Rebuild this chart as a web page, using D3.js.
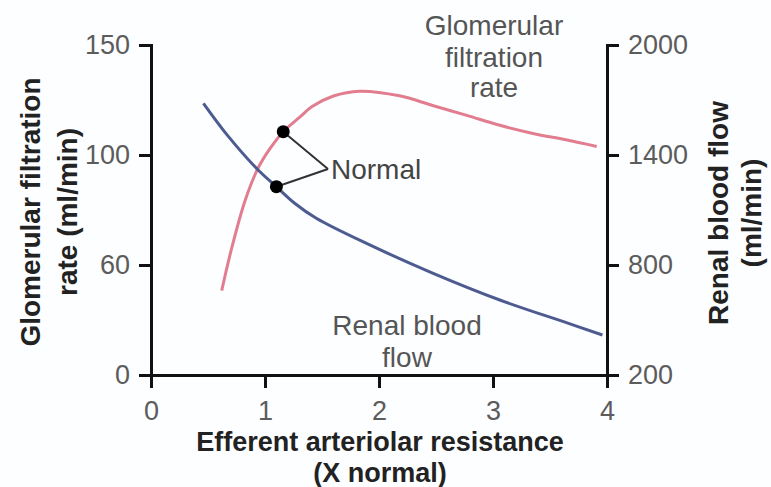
<!DOCTYPE html>
<html>
<head>
<meta charset="utf-8">
<script src="https://cdn.jsdelivr.net/npm/d3@7"></script>
<style>
  body { margin: 0; background: #fdfeff; }
  svg { display: block; font-family: Arial, "Liberation Sans", sans-serif; }
  .axis path, .axis line { stroke: #111; stroke-width: 3; }
  .axis text { fill: #5c5c5c; font-size: 27px; font-family: Arial, "Liberation Sans", sans-serif; }
</style>
</head>
<body>
<div id="chart"></div>
<script>
// x: efferent arteriolar resistance (X normal)
var xTicks = [0, 1, 2, 3, 4];
var gfrTicks = [0, 60, 100, 150];      // left axis, ml/min
var rbfTicks = [200, 800, 1400, 2000]; // right axis, ml/min

// glomerular filtration rate (left axis)
var gfrX = [0.62, 0.71, 0.825, 0.94, 1.045, 1.16, 1.31, 1.41, 1.6, 1.83, 2.18, 2.47, 2.77, 3.06, 3.35, 3.65, 3.91];
var gfrY = [46, 66.5, 83.4, 95.3, 103, 110.6, 117.4, 121.9, 126.8, 129, 126.9, 122.5, 118, 113.5, 109.8, 106.8, 103.9];

// renal blood flow (right axis)
var rbfX = [0.46, 0.68, 0.94, 1.10, 1.26, 1.45, 1.90, 2.47, 3.06, 3.65, 3.96];
var rbfY = [1682, 1500, 1318, 1227, 1137, 1055, 915, 756, 609, 484, 418];

// normal operating points
var normalX = [1.16, 1.10];
var normalY = [110.6, 1227];

var W = 771, H = 487;
var svg = d3.select('#chart').append('svg').attr('width', W).attr('height', H);

var x = d3.scaleLinear().domain([0, 4]).range([151, 607]);
// left axis ticks are spaced evenly in the source figure
var yTop = 45, yBot = 375;
var yL = d3.scaleLinear().domain(gfrTicks)
    .range(gfrTicks.map(function(d, i){ return yBot - i * (yBot - yTop) / (gfrTicks.length - 1); }));
var yR = d3.scaleLinear().domain([200, 2000]).range([yBot, yTop]);

var line = d3.line().curve(d3.curveCatmullRom.alpha(0.5));

svg.append('path')
    .attr('d', line(gfrX.map(function(d, i){ return [x(d), yL(gfrY[i])]; })))
    .attr('fill', 'none').attr('stroke', '#e27d8f').attr('stroke-width', 3);
svg.append('path')
    .attr('d', line(rbfX.map(function(d, i){ return [x(d), yR(rbfY[i])]; })))
    .attr('fill', 'none').attr('stroke', '#4d5b90').attr('stroke-width', 3);

// axes
svg.append('g').attr('class', 'axis').attr('transform', 'translate(0,' + yBot + ')')
    .call(d3.axisBottom(x).tickValues(xTicks).tickSize(13).tickPadding(13).tickFormat(d3.format('d')));
svg.append('g').attr('class', 'axis').attr('transform', 'translate(151,0)')
    .call(d3.axisLeft(yL).tickValues(gfrTicks).tickSize(12).tickPadding(9).tickSizeOuter(12));
svg.append('g').attr('class', 'axis').attr('transform', 'translate(607,0)')
    .call(d3.axisRight(yR).tickValues(rbfTicks).tickSize(12).tickPadding(9).tickSizeOuter(12)
        .tickFormat(d3.format('d')));
svg.selectAll('.axis .domain').attr('fill', 'none');

// normal points + pointer
var pts = [[x(normalX[0]), yL(normalY[0])], [x(normalX[1]), yR(normalY[1])]];
var vx = 328, vy = 169;
pts.forEach(function(p){
    svg.append('line').attr('x1', p[0]).attr('y1', p[1]).attr('x2', vx).attr('y2', vy)
        .attr('stroke', '#333').attr('stroke-width', 2);
});
svg.selectAll('circle.n').data(pts).enter().append('circle')
    .attr('cx', function(d){ return d[0]; }).attr('cy', function(d){ return d[1]; })
    .attr('r', 6.5).attr('fill', '#000');
svg.append('text').attr('x', vx + 3).attr('y', vy + 10).text('Normal')
    .attr('font-size', 28).attr('fill', '#444');

// curve labels
function label(lines, cx, ys){
    var t = svg.append('text').attr('text-anchor', 'middle').attr('font-size', 28).attr('fill', '#555');
    lines.forEach(function(s, i){ t.append('tspan').attr('x', cx).attr('y', ys[i]).text(s); });
}
label(['Glomerular', 'filtration', 'rate'], 494, [35, 67, 97]);
label(['Renal blood', 'flow'], 407, [335, 367]);

// axis titles
function title(lines, tx, ty, dx){
    lines.forEach(function(s, i){
        svg.append('text').attr('transform', 'translate(' + (tx + i * dx) + ',' + ty + ') rotate(-90)')
            .attr('text-anchor', 'middle').attr('font-size', 28).attr('font-weight', 'bold')
            .attr('fill', '#222').text(s);
    });
}
title(['Glomerular filtration', 'rate (ml/min)'], 40, 212, 37);
title(['Renal blood flow', '(ml/min)'], 728, 213, 33);

[['Efferent arteriolar resistance', 451], ['(X normal)', 481.5]].forEach(function(r){
    svg.append('text').attr('x', 380).attr('y', r[1]).attr('text-anchor', 'middle')
        .attr('font-size', 27).attr('font-weight', 'bold').attr('fill', '#222').text(r[0]);
});
</script>
</body>
</html>
